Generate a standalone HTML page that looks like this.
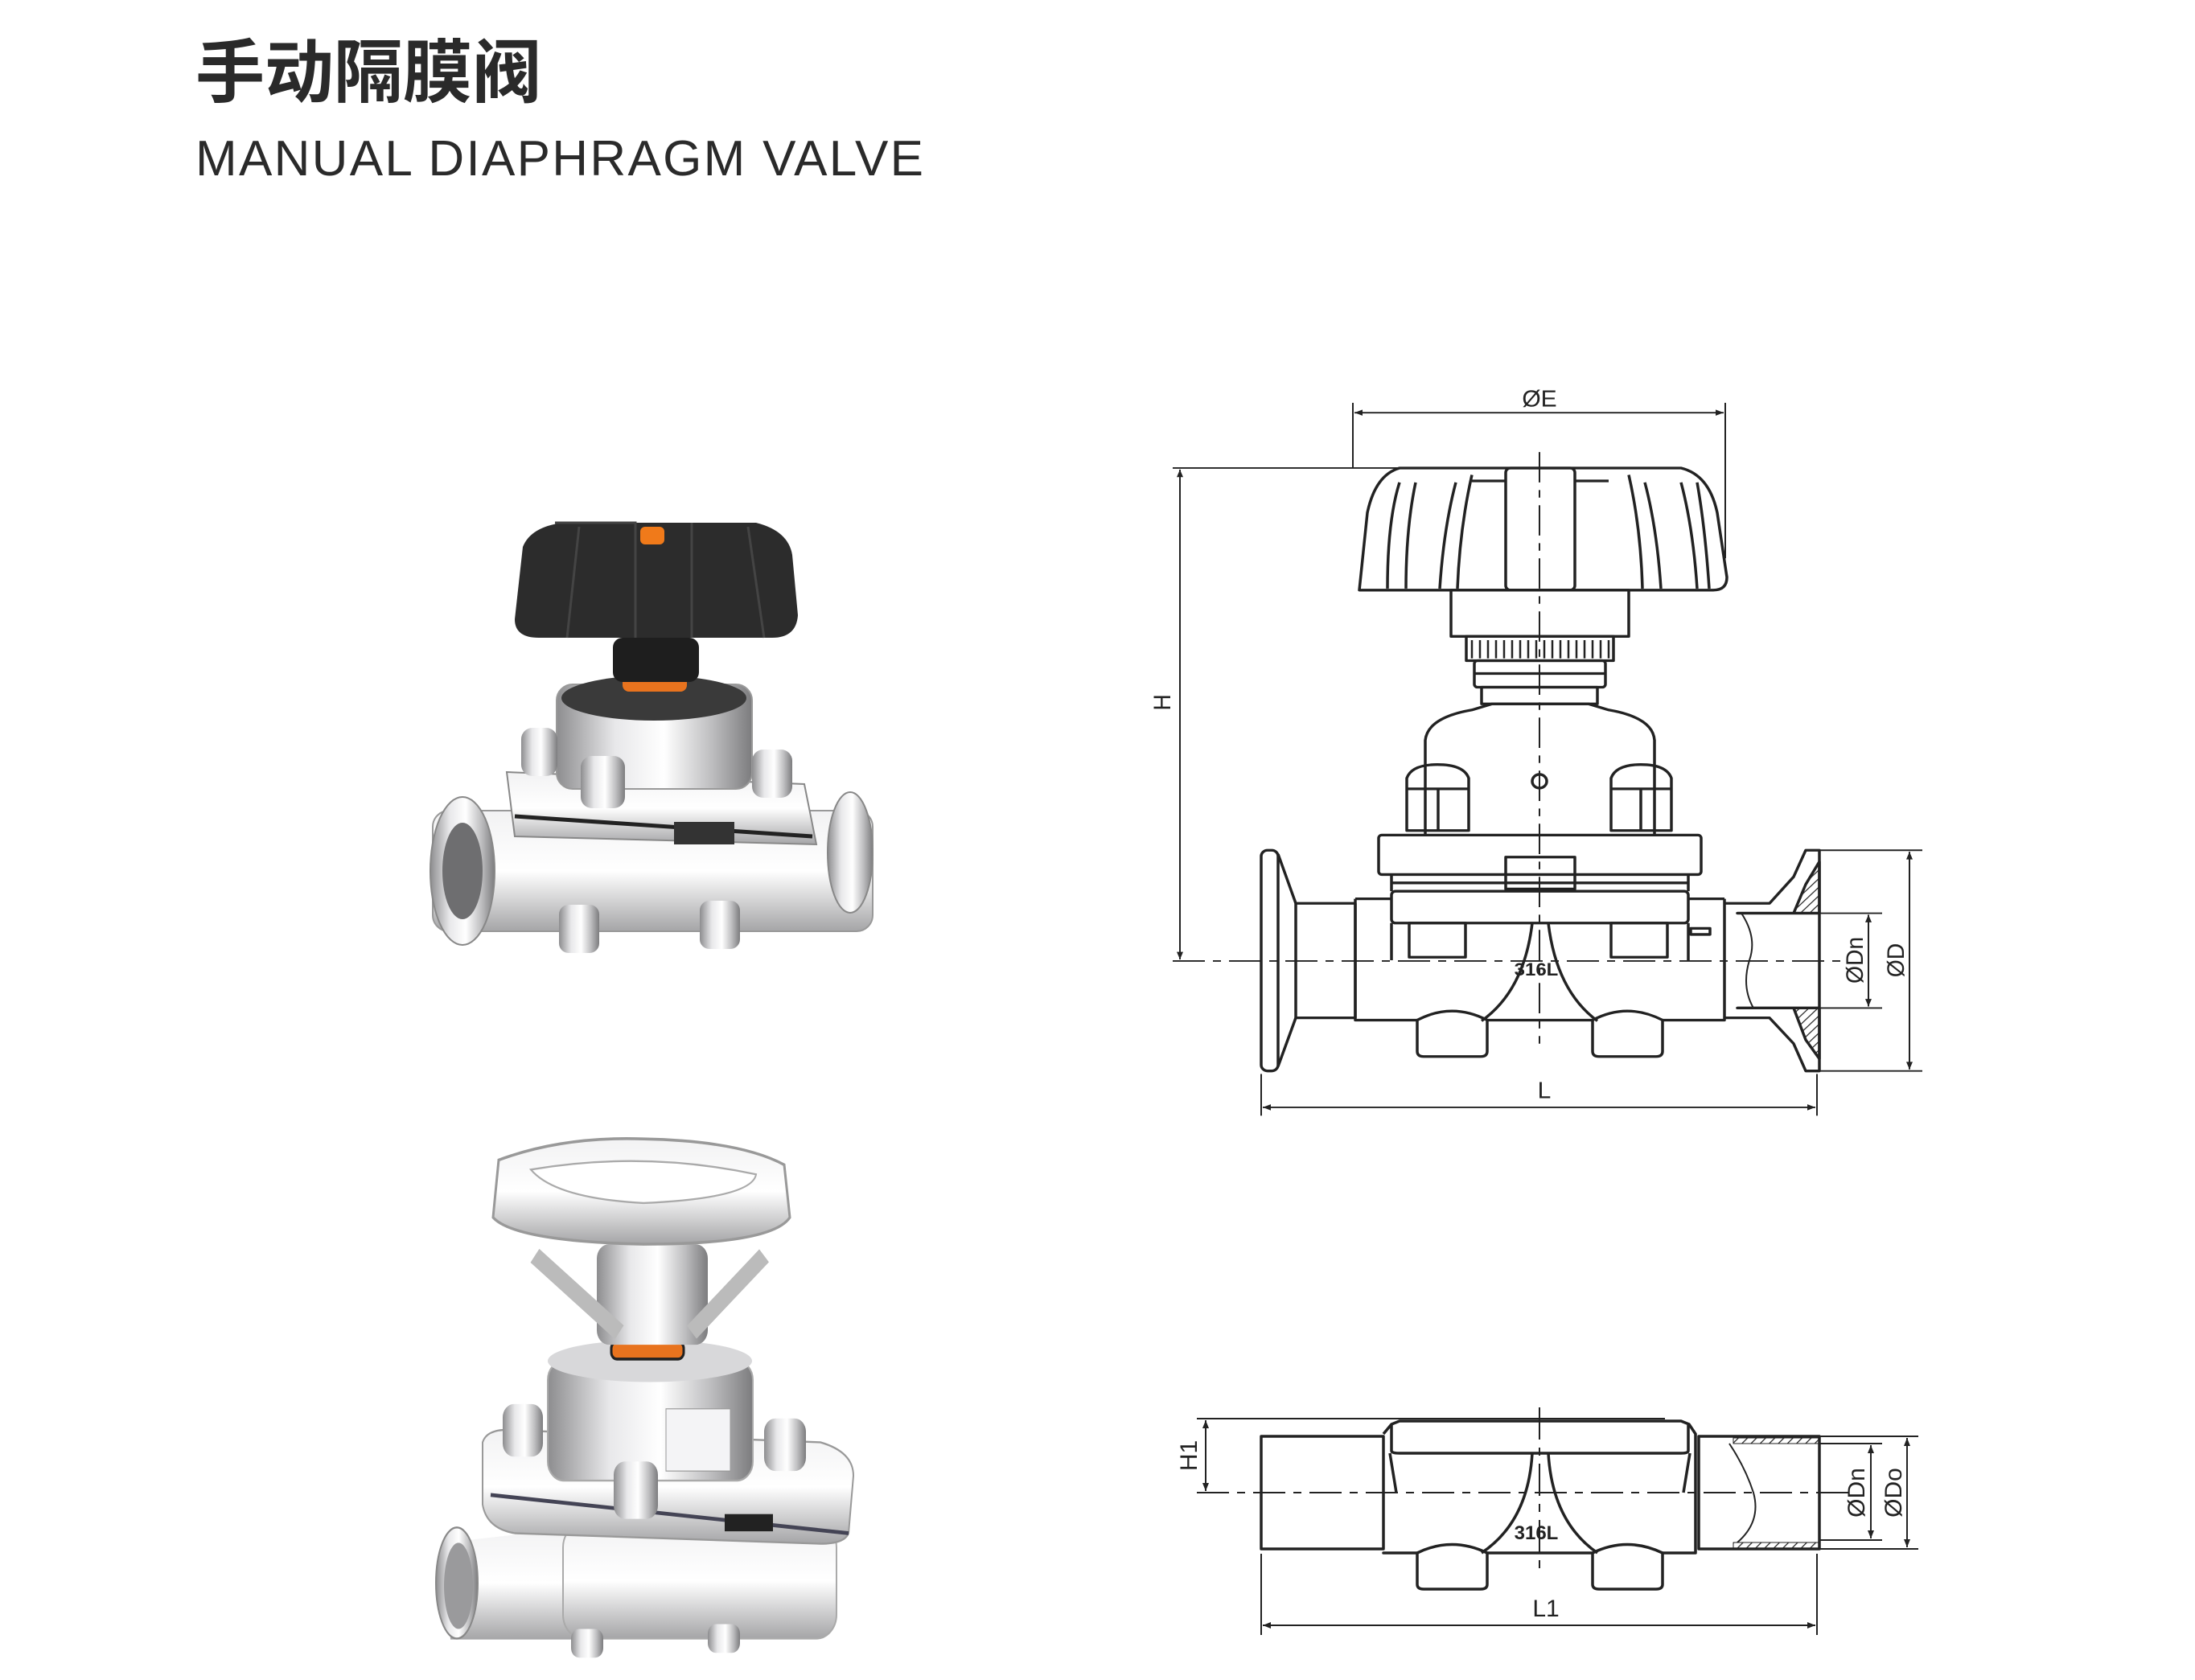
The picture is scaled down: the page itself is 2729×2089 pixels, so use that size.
<!DOCTYPE html>
<html><head><meta charset="utf-8"><style>
html,body{margin:0;padding:0;background:#fff;overflow:hidden}
svg{display:block}
</style></head><body>
<svg width="2729" height="2089" viewBox="0 0 2729 2089" xmlns="http://www.w3.org/2000/svg">
<defs>
<linearGradient id="steel" x1="0" y1="0" x2="1" y2="0">
<stop offset="0" stop-color="#8d8d8f"/><stop offset="0.3" stop-color="#e8e8ea"/><stop offset="0.55" stop-color="#ffffff"/><stop offset="0.8" stop-color="#bcbcbe"/><stop offset="1" stop-color="#7c7c7e"/></linearGradient>
<linearGradient id="steelv" x1="0" y1="0" x2="0" y2="1">
<stop offset="0" stop-color="#f2f2f3"/><stop offset="0.5" stop-color="#ffffff"/><stop offset="1" stop-color="#a5a5a7"/></linearGradient>
<pattern id="hatch" width="8" height="8" patternUnits="userSpaceOnUse" patternTransform="rotate(45)"><line x1="0" y1="0" x2="0" y2="8" stroke="#222" stroke-width="2.5"/></pattern>
<marker id="ar" viewBox="0 0 10 10" refX="10" refY="5" markerWidth="14" markerHeight="10" orient="auto-start-reverse" markerUnits="userSpaceOnUse"><path d="M0,1 L10,5 L0,9 Z" fill="#222"/></marker>
</defs>

<text x="243" y="120" font-family="'Liberation Sans','Noto Sans CJK SC',sans-serif" font-weight="bold" font-size="86" fill="#2a2a2a">手动隔膜阀</text>
<text x="243" y="218" font-family="'Liberation Sans',sans-serif" font-size="62" fill="#2a2a2a" textLength="905">MANUAL DIAPHRAGM VALVE</text>

<!-- Photo 1 -->
<g>
<rect x="538" y="1008" width="547" height="150" rx="20" fill="url(#steelv)" stroke="#999" stroke-width="2"/>
<ellipse cx="575" cy="1083" rx="40" ry="92" fill="url(#steel)" stroke="#888" stroke-width="2"/>
<ellipse cx="575" cy="1083" rx="25" ry="60" fill="#6e6e70"/>
<ellipse cx="1057" cy="1060" rx="28" ry="75" fill="url(#steel)" stroke="#888" stroke-width="2"/>
<rect x="695" y="1125" width="50" height="60" rx="12" fill="url(#steel)"/>
<rect x="870" y="1120" width="50" height="60" rx="12" fill="url(#steel)"/>
<polygon points="630,960 1000,975 1015,1050 640,1040" fill="url(#steelv)" stroke="#888" stroke-width="2"/>
<line x1="640" y1="1015" x2="1010" y2="1040" stroke="#222" stroke-width="5"/>
<rect x="838" y="1022" width="75" height="28" fill="#333"/>
<rect x="692" y="851" width="243" height="130" rx="20" fill="url(#steel)" stroke="#999" stroke-width="2"/>
<ellipse cx="813" cy="868" rx="115" ry="28" fill="#3a3a3a"/>
<rect x="648" y="905" width="45" height="60" rx="14" fill="url(#steel)"/>
<rect x="722" y="940" width="55" height="65" rx="14" fill="url(#steel)"/>
<rect x="935" y="932" width="50" height="60" rx="14" fill="url(#steel)"/>
<rect x="774" y="840" width="80" height="20" rx="8" fill="#e8731e"/>
<rect x="762" y="793" width="107" height="55" rx="12" fill="#1e1e1e"/>
<path d="M650,680 Q660,655 700,650 L940,650 Q980,660 985,690 L992,765 Q990,793 960,793 L670,793 Q640,793 640,770 Z" fill="#2c2c2c"/>
<path d="M690,650 L790,650 L790,793 M860,650 L860,793 M930,655 L950,793 M720,655 L705,793" stroke="#444" stroke-width="3" fill="none"/>
<rect x="796" y="655" width="30" height="22" rx="6" fill="#f07a1a"/>
</g>

<!-- Photo 2 -->
<g transform="translate(0,-259.3) scale(1,1.19)">
<path d="M552,1830 L731,1813 L731,1931 L560,1931 Z" fill="url(#steelv)"/>
<ellipse cx="568" cy="1872" rx="26" ry="58" fill="url(#steel)" stroke="#888" stroke-width="2"/>
<ellipse cx="570" cy="1875" rx="18" ry="45" fill="#9a9a9c"/>
<rect x="700" y="1810" width="340" height="120" rx="25" fill="url(#steelv)" stroke="#aaa" stroke-width="2"/>
<rect x="710" y="1920" width="40" height="30" rx="10" fill="url(#steel)"/>
<rect x="880" y="1915" width="40" height="30" rx="10" fill="url(#steel)"/>
<path d="M600,1725 Q605,1712 630,1712 L1020,1725 Q1061,1735 1061,1760 L1055,1820 Q1050,1831 1020,1831 L640,1820 Q605,1815 600,1790 Z" fill="url(#steelv)" stroke="#999" stroke-width="2"/>
<line x1="610" y1="1780" x2="1055" y2="1820" stroke="#445" stroke-width="4"/>
<rect x="901" y="1800" width="60" height="18" fill="#222"/>
<rect x="681" y="1640" width="255" height="125" rx="20" fill="url(#steel)" stroke="#aaa" stroke-width="2"/>
<ellipse cx="808" cy="1640" rx="127" ry="22" fill="#d8d8da"/>
<rect x="828" y="1690" width="80" height="65" fill="#f4f4f6" stroke="#999" stroke-width="1"/>
<rect x="625" y="1685" width="50" height="55" rx="14" fill="url(#steel)"/>
<rect x="763" y="1745" width="55" height="60" rx="14" fill="url(#steel)"/>
<rect x="950" y="1700" width="52" height="55" rx="14" fill="url(#steel)"/>
<rect x="760" y="1620" width="90" height="18" rx="7" fill="#e8731e" stroke="#222" stroke-width="3"/>
<rect x="742" y="1518" width="138" height="105" rx="15" fill="url(#steel)"/>
<path d="M665,1530 L770,1610 M950,1530 L860,1610" stroke="#bbb" stroke-width="18"/>
<path d="M620,1430 Q700,1405 800,1408 Q920,1410 975,1435 L982,1490 Q960,1518 800,1518 Q640,1515 613,1490 Z" fill="url(#steelv)" stroke="#999" stroke-width="3"/>
<path d="M660,1440 Q800,1420 940,1445 Q935,1470 800,1475 Q690,1470 660,1440 Z" fill="#fff" stroke="#aaa" stroke-width="2"/>
</g>

<!-- Top drawing -->
<g transform="translate(0,34.1) scale(1,0.943)">
<g fill="none" stroke="#222" stroke-width="3.5" stroke-linejoin="round">
<path d="M1690,742 L1700,640 Q1710,590 1740,581 L2090,581 Q2125,590 2135,640 L2147,725 Q2147,742 2130,742 Z"/>
<path d="M1740,600 Q1725,650 1725,740 M1760,600 Q1748,660 1748,740 M1810,600 Q1795,660 1790,740 M1830,590 Q1815,660 1812,740 M2025,590 Q2040,660 2042,740 M2045,600 Q2060,660 2065,740 M2090,600 Q2105,660 2110,740 M2110,600 Q2120,660 2125,740"/>
<rect x="1872" y="581" width="86" height="161" rx="6"/>
<line x1="1830" y1="598" x2="1872" y2="598"/><line x1="1958" y1="598" x2="2000" y2="598"/>
<rect x="1804" y="742" width="221" height="61"/>
<rect x="1823" y="803" width="183" height="32"/>
<path d="M1830,808 v24 M1840,808 v24 M1850,808 v24 M1860,808 v24 M1870,808 v24 M1880,808 v24 M1890,808 v24 M1900,808 v24 M1910,808 v24 M1920,808 v24 M1930,808 v24 M1940,808 v24 M1950,808 v24 M1960,808 v24 M1970,808 v24 M1980,808 v24 M1990,808 v24 M2000,808 v24" stroke-width="2.5"/>
<rect x="1833" y="835" width="163" height="35" rx="4"/>
<line x1="1833" y1="852" x2="1996" y2="852"/>
<rect x="1842" y="870" width="144" height="22"/>
<path d="M1772,1065 L1772,940 Q1775,910 1830,900 L1855,892 L1975,892 L2000,900 Q2055,910 2057,940 L2057,1065"/>
<circle cx="1914" cy="994" r="9"/>
<path d="M1749,1059 L1749,990 Q1755,972 1787,972 Q1820,972 1826,990 L1826,1059 Z"/>
<line x1="1749" y1="1004" x2="1826" y2="1004"/><line x1="1788" y1="1004" x2="1788" y2="1059"/>
<path d="M2003,1059 L2003,990 Q2009,972 2040,972 Q2072,972 2078,990 L2078,1059 Z"/>
<line x1="2003" y1="1004" x2="2078" y2="1004"/><line x1="2040" y1="1004" x2="2040" y2="1059"/>
<rect x="1714" y="1065" width="401" height="52" rx="4"/>
<rect x="1872" y="1094" width="86" height="42"/>
<line x1="1730" y1="1117" x2="1730" y2="1139"/><line x1="2099" y1="1117" x2="2099" y2="1139"/>
<line x1="1730" y1="1128" x2="2099" y2="1128"/>
<rect x="1730" y="1139" width="369" height="42" rx="5"/>
<path d="M1685,1149 L1730,1149 M2099,1149 L2144,1149 M1685,1149 L1685,1309 L1762,1309 M1849,1309 L1980,1309 M2067,1309 L2144,1309 L2144,1149"/>
<path d="M1762,1309 Q1805,1285 1849,1309 M1980,1309 Q2023,1285 2067,1309"/>
<path d="M1762,1309 L1762,1350 Q1762,1357 1770,1357 L1841,1357 Q1849,1357 1849,1350 L1849,1309 M1980,1309 L1980,1350 Q1980,1357 1988,1357 L2059,1357 Q2067,1357 2067,1350 L2067,1309"/>
<path d="M1842,1310 Q1895,1270 1905,1181 M1986,1310 Q1935,1270 1925,1181"/>
<rect x="1752" y="1181" width="70" height="45"/><rect x="2003" y="1181" width="70" height="45"/>
<path d="M1730,1181 L1730,1230 M2099,1181 L2099,1230"/>
<rect x="2102" y="1188" width="24" height="8"/>
<rect x="1568" y="1085" width="21" height="291" rx="8"/>
<path d="M1589,1090 L1611,1155 L1685,1155 M1589,1370 L1611,1306 L1685,1306"/>
<line x1="1611" y1="1155" x2="1611" y2="1306"/>
<line x1="1685" y1="1155" x2="1685" y2="1306"/>
<path d="M2144,1155 L2200,1155 L2230,1120 L2245,1085 L2262,1085 L2262,1376 L2245,1376 L2230,1340 L2200,1306 L2144,1306"/>
<path d="M2160,1168 L2230,1168 L2262,1168 M2160,1293 L2262,1293"/>
<path d="M2160,1168 L2230,1168 L2245,1130 L2262,1100 L2262,1168 Z M2160,1293 L2230,1293 L2245,1335 L2262,1360 L2262,1293 Z" fill="url(#hatch)"/>
<path d="M2165,1168 Q2185,1200 2175,1230 Q2165,1265 2180,1293" stroke-width="2"/>
</g>
<text x="1910" y="1250" font-family="'Liberation Sans',sans-serif" font-weight="bold" font-size="24" text-anchor="middle" fill="#222">316L</text>
<g stroke="#222" stroke-width="2" fill="none">
<line x1="1682" y1="495" x2="1682" y2="581"/><line x1="2145" y1="495" x2="2145" y2="700"/>
<line x1="1684" y1="508" x2="2143" y2="508" marker-start="url(#ar)" marker-end="url(#ar)"/>
<line x1="1458" y1="581" x2="1760" y2="581"/>
<line x1="1467" y1="583" x2="1467" y2="1229" marker-start="url(#ar)" marker-end="url(#ar)"/>
<line x1="1458" y1="1231" x2="2290" y2="1231" stroke-dasharray="40,10,10,10"/>
<line x1="1914" y1="560" x2="1914" y2="1340" stroke-dasharray="40,10,10,10"/>
<line x1="1568" y1="1380" x2="1568" y2="1435"/><line x1="2259" y1="1380" x2="2259" y2="1435"/>
<line x1="1570" y1="1424" x2="2257" y2="1424" marker-start="url(#ar)" marker-end="url(#ar)"/>
<line x1="2262" y1="1085" x2="2390" y2="1085"/><line x1="2262" y1="1376" x2="2390" y2="1376"/>
<line x1="2374" y1="1087" x2="2374" y2="1374" marker-start="url(#ar)" marker-end="url(#ar)"/>
<line x1="2262" y1="1168" x2="2340" y2="1168"/><line x1="2262" y1="1293" x2="2340" y2="1293"/>
<line x1="2323" y1="1170" x2="2323" y2="1291" marker-start="url(#ar)" marker-end="url(#ar)"/>
</g>
<g font-family="'Liberation Sans',sans-serif" font-size="30" fill="#222">
<text x="1914" y="500" text-anchor="middle">ØE</text>
<text x="1920" y="1412" text-anchor="middle">L</text>
<text transform="translate(1455,890) rotate(-90)" text-anchor="middle">H</text>
<text transform="translate(2316,1230) rotate(-90)" text-anchor="middle">ØDn</text>
<text transform="translate(2367,1230) rotate(-90)" text-anchor="middle">ØD</text>
</g>
</g>

<!-- Bottom drawing -->
<g fill="none" stroke="#222" stroke-width="3.5" stroke-linejoin="round">
<rect x="1568" y="1786" width="152" height="140"/>
<path d="M1720,1783 L1730,1771 L1740,1767 L2090,1767 L2100,1771 L2108,1783 L2108,1931 L2067,1931 M1980,1931 L1849,1931 M1762,1931 L1720,1931 Z"/>
<path d="M1730,1772 L1730,1804 Q1730,1807 1740,1807 L2090,1807 Q2099,1807 2099,1804 L2099,1772"/>
<line x1="1760" y1="1764" x2="2070" y2="1764" stroke-width="2"/>
<path d="M1728,1807 L1736,1856 M2101,1807 L2093,1856"/>
<path d="M1762,1931 Q1805,1910 1849,1931 M1980,1931 Q2023,1910 2067,1931"/>
<path d="M1762,1931 L1762,1970 Q1762,1976 1770,1976 L1841,1976 Q1849,1976 1849,1970 L1849,1931 M1980,1931 L1980,1970 Q1980,1976 1988,1976 L2059,1976 Q2067,1976 2067,1970 L2067,1931"/>
<path d="M1842,1931 Q1900,1892 1905,1807 M1986,1931 Q1930,1892 1925,1807"/>
<rect x="2112" y="1786" width="150" height="140"/>
<rect x="2155" y="1788" width="107" height="7" fill="url(#hatch)" stroke-width="1"/>
<rect x="2155" y="1918" width="107" height="7" fill="url(#hatch)" stroke-width="1"/>
<path d="M2150,1795 Q2170,1825 2180,1856 Q2190,1892 2160,1918" stroke-width="2"/>
</g>
<text x="1910" y="1914" font-family="'Liberation Sans',sans-serif" font-weight="bold" font-size="24" text-anchor="middle" fill="#222">316L</text>
<g stroke="#222" stroke-width="2" fill="none">
<line x1="1488" y1="1764" x2="1760" y2="1764"/>
<line x1="1499" y1="1766" x2="1499" y2="1854" marker-start="url(#ar)" marker-end="url(#ar)"/>
<line x1="1488" y1="1856" x2="2300" y2="1856" stroke-dasharray="40,10,10,10"/>
<line x1="1914" y1="1750" x2="1914" y2="1955" stroke-dasharray="40,10,10,10"/>
<line x1="1568" y1="1932" x2="1568" y2="2033"/><line x1="2259" y1="1932" x2="2259" y2="2033"/>
<line x1="1570" y1="2021" x2="2257" y2="2021" marker-start="url(#ar)" marker-end="url(#ar)"/>
<line x1="2262" y1="1786" x2="2385" y2="1786"/><line x1="2262" y1="1926" x2="2385" y2="1926"/>
<line x1="2371" y1="1788" x2="2371" y2="1924" marker-start="url(#ar)" marker-end="url(#ar)"/>
<line x1="2262" y1="1795" x2="2340" y2="1795"/><line x1="2262" y1="1915" x2="2340" y2="1915"/>
<line x1="2326" y1="1797" x2="2326" y2="1913" marker-start="url(#ar)" marker-end="url(#ar)"/>
</g>
<g font-family="'Liberation Sans',sans-serif" font-size="30" fill="#222">
<text x="1922" y="2010" text-anchor="middle">L1</text>
<text transform="translate(1488,1810) rotate(-90)" text-anchor="middle">H1</text>
<text transform="translate(2318,1856) rotate(-90)" text-anchor="middle">ØDn</text>
<text transform="translate(2364,1856) rotate(-90)" text-anchor="middle">ØDo</text>
</g>
</svg>
</body></html>
